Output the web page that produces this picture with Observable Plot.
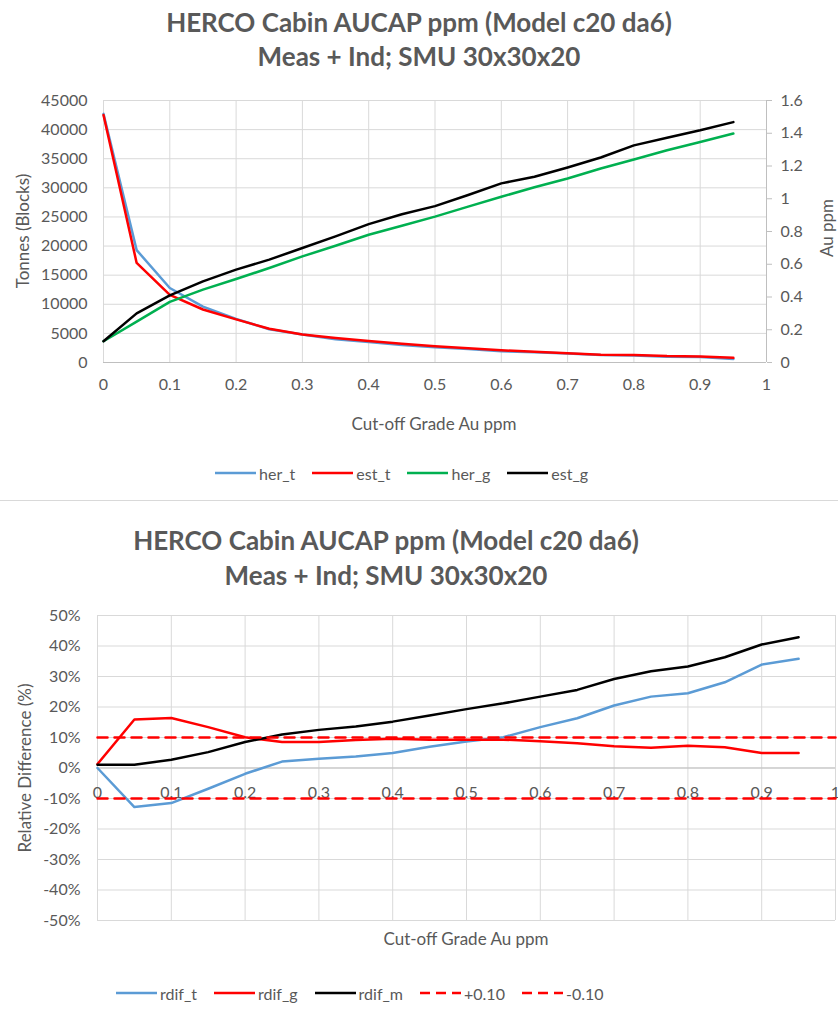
<!DOCTYPE html>
<html><head><meta charset="utf-8">
<script src="https://cdn.jsdelivr.net/npm/d3@7"></script>
<script src="https://cdn.jsdelivr.net/npm/@observablehq/plot@0.6"></script>
<style>
body{margin:0;background:#fff;font-family:Lato,"Open Sans",sans-serif;}
#root{position:relative;width:838px;height:1021px;overflow:hidden;background:#fff;}
.title{position:absolute;left:0;width:838px;text-align:center;font-weight:bold;font-size:26px;color:#595959;line-height:26px;white-space:nowrap;}
.lbl{position:absolute;font-size:17px;color:#595959;white-space:nowrap;line-height:17px;transform:translate(-50%,-50%);}
.rot{transform:translate(-50%,-50%) rotate(-90deg);}
.legend{position:absolute;display:flex;align-items:center;font-size:16px;color:#595959;white-space:nowrap;}
.legend .item{display:flex;align-items:center;margin-right:17px;}
.legend svg{margin-right:3px;}
.sep{position:absolute;left:0;width:838px;top:500px;height:1px;background:#d9d9d9;}
svg.ov{position:absolute;left:0;}
</style>
</head><body>
<div id="root"></div>
<script>
// ---------- data ----------
const cutoffs = [0,0.05,0.1,0.15,0.2,0.25,0.3,0.35,0.4,0.45,0.5,0.55,0.6,0.65,0.7,0.75,0.8,0.85,0.9,0.95];
const her_t = [42700,19300,12800,9600,7500,5700,4800,4000,3500,3000,2600,2300,1950,1750,1550,1300,1200,1000,950,600];
const est_t = [42500,17100,11600,9100,7400,5800,4800,4200,3700,3200,2800,2450,2100,1850,1600,1350,1300,1100,1050,800];
const her_g = [0.13,0.25,0.37,0.445,0.51,0.577,0.648,0.713,0.78,0.835,0.891,0.952,1.012,1.07,1.124,1.185,1.24,1.296,1.347,1.398];
const est_g = [0.13,0.30,0.41,0.495,0.567,0.628,0.699,0.77,0.845,0.905,0.955,1.023,1.094,1.134,1.191,1.252,1.326,1.373,1.418,1.468];

const rdif_t = [0,-0.128,-0.115,-0.068,-0.019,0.021,0.030,0.038,0.049,0.070,0.087,0.101,0.134,0.163,0.205,0.234,0.245,0.281,0.339,0.358];
const rdif_g = [0.013,0.159,0.164,0.134,0.101,0.085,0.085,0.092,0.096,0.093,0.093,0.093,0.088,0.081,0.071,0.066,0.073,0.068,0.049,0.049];
const rdif_m = [0.011,0.011,0.027,0.052,0.085,0.110,0.125,0.136,0.152,0.172,0.193,0.212,0.234,0.256,0.292,0.317,0.333,0.363,0.405,0.429];
const limitX = [0,1];
const limitPlus = [0.10,0.10];
const limitMinus = [-0.10,-0.10];

const xTicks = [0,0.1,0.2,0.3,0.4,0.5,0.6,0.7,0.8,0.9,1];
const tonTicks = [0,5000,10000,15000,20000,25000,30000,35000,40000,45000];
const gradeTicks = [0,0.2,0.4,0.6,0.8,1,1.2,1.4,1.6];
const pctTicks = [-0.5,-0.4,-0.3,-0.2,-0.1,0,0.1,0.2,0.3,0.4,0.5];

const titleLine1 = "HERCO Cabin AUCAP ppm (Model c20 da6)";
const titleLine2 = "Meas + Ind; SMU 30x30x20";
const topLegend = [{name:"her_t",color:"#5b9bd5"},{name:"est_t",color:"#ff0000"},{name:"her_g",color:"#00b050"},{name:"est_g",color:"#000000"}];
const botLegend = [{name:"rdif_t",color:"#5b9bd5"},{name:"rdif_g",color:"#ff0000"},{name:"rdif_m",color:"#000000"},{name:"+0.10",color:"#ff0000",dash:true},{name:"-0.10",color:"#ff0000",dash:true}];

// ---------- helpers ----------
const root = document.getElementById("root");
function addDiv(cls, text, x, y, extra){
  const d = document.createElement("div");
  d.className = cls; d.textContent = text;
  if (x != null) d.style.left = x + "px";
  if (y != null) d.style.top = y + "px";
  if (extra) Object.assign(d.style, extra);
  root.appendChild(d); return d;
}
function addLegend(items, x, y){
  const L = document.createElement("div");
  L.className = "legend"; L.style.left = x+"px"; L.style.top = (y-9)+"px"; L.style.height="18px";
  for (const it of items){
    const s = document.createElement("div"); s.className="item";
    s.innerHTML = `<svg width="41" height="6"><line x1="0" x2="41" y1="3" y2="3" stroke="${it.color}" stroke-width="2.5" ${it.dash?'stroke-dasharray="10,6"':''}/></svg><span>${it.name}</span>`;
    L.appendChild(s);
  }
  root.appendChild(L);
}
const common = {fontFamily:"Lato, 'Open Sans', sans-serif", fontSize:"16px", color:"#595959", background:"transparent", overflow:"visible"};
const gridStyle = {stroke:"#d9d9d9", strokeOpacity:1};

// ---------- top chart ----------
addDiv("title", titleLine1, null, 9);
addDiv("title", titleLine2, null, 43);

const rowsTop = cutoffs.map((c,i)=>({x:c, her_t:her_t[i], est_t:est_t[i], her_g:her_g[i], est_g:est_g[i]}));
const dims1 = {width:838, height:360, marginLeft:103, marginRight:72, marginTop:20, marginBottom:78};

const p1 = Plot.plot({
  ...dims1, style:common,
  x:{domain:[0,1]}, y:{domain:[0,45000]},
  marks:[
    Plot.gridX(xTicks, gridStyle),
    Plot.gridY(tonTicks, gridStyle),
    Plot.axisX(xTicks, {tickSize:0, tickPadding:16, label:null, tickFormat:d=>String(d)}),
    Plot.axisY(tonTicks, {tickSize:0, tickPadding:16, label:null, tickFormat:d=>String(d)}),
    Plot.ruleY([0], {stroke:"#bfbfbf"}),
    Plot.lineY(rowsTop, {x:"x", y:"her_t", stroke:"#5b9bd5", strokeWidth:2.5}),
    Plot.lineY(rowsTop, {x:"x", y:"est_t", stroke:"#ff0000", strokeWidth:2.5})
  ]
});
p1.classList.add("ov"); p1.style.top = "80px";
root.appendChild(p1);

const p1b = Plot.plot({
  ...dims1, style:common,
  x:{domain:[0,1], axis:null}, y:{domain:[0,1.6]},
  marks:[
    Plot.ruleX([1], {stroke:"#bfbfbf"}),
    Plot.axisY(gradeTicks, {anchor:"right", tickSize:5, tickPadding:9, label:null, stroke:"#bfbfbf", tickFormat:d=>String(d)}),
    Plot.lineY(rowsTop, {x:"x", y:"her_g", stroke:"#00b050", strokeWidth:2.5}),
    Plot.lineY(rowsTop, {x:"x", y:"est_g", stroke:"#000000", strokeWidth:2.5})
  ]
});
p1b.classList.add("ov"); p1b.style.top = "80px";
root.appendChild(p1b);

addDiv("lbl rot", "Tonnes (Blocks)", 22, 231);
addDiv("lbl rot", "Au ppm", 826, 228);
addDiv("lbl", "Cut-off Grade Au ppm", 434, 423);
addLegend(topLegend, 215, 473);

root.appendChild(Object.assign(document.createElement("div"), {className:"sep"}));

// ---------- bottom chart ----------
addDiv("title", titleLine1, -33, 527);
addDiv("title", titleLine2, -33, 562);

const rowsBot = cutoffs.map((c,i)=>({x:c, rdif_t:rdif_t[i], rdif_g:rdif_g[i], rdif_m:rdif_m[i]}));
const rowsLim = limitX.map((c,i)=>({x:c, plus:limitPlus[i], minus:limitMinus[i]}));

const p2 = Plot.plot({
  width:838, height:340, marginLeft:97, marginRight:3, marginTop:15, marginBottom:20,
  style:common,
  x:{domain:[0,1], axis:null}, y:{domain:[-0.5,0.5]},
  marks:[
    Plot.gridX(xTicks, gridStyle),
    Plot.gridY(pctTicks, gridStyle),
    Plot.axisY(pctTicks, {tickSize:0, tickPadding:17, label:null, tickFormat:d=>Math.round(d*100)+"%"}),
    Plot.ruleY([0], {stroke:"#bfbfbf"}),
    Plot.text(xTicks, {x:d=>d, y:0, dy:25, text:d=>String(d), fill:"#595959", fontSize:16}),
    Plot.lineY(rowsBot, {x:"x", y:"rdif_t", stroke:"#5b9bd5", strokeWidth:2.5}),
    Plot.lineY(rowsBot, {x:"x", y:"rdif_g", stroke:"#ff0000", strokeWidth:2.5}),
    Plot.lineY(rowsBot, {x:"x", y:"rdif_m", stroke:"#000000", strokeWidth:2.5}),
    Plot.lineY(rowsLim, {x:"x", y:"plus", stroke:"#ff0000", strokeWidth:2.5, strokeDasharray:"10,7"}),
    Plot.lineY(rowsLim, {x:"x", y:"minus", stroke:"#ff0000", strokeWidth:2.5, strokeDasharray:"10,7"})
  ]
});
p2.classList.add("ov"); p2.style.top = "600px";
root.appendChild(p2);

addDiv("lbl rot", "Relative Difference (%)", 24, 768);
addDiv("lbl", "Cut-off Grade Au ppm", 466, 938);
addLegend(botLegend, 116, 993);
</script>
</body></html>
